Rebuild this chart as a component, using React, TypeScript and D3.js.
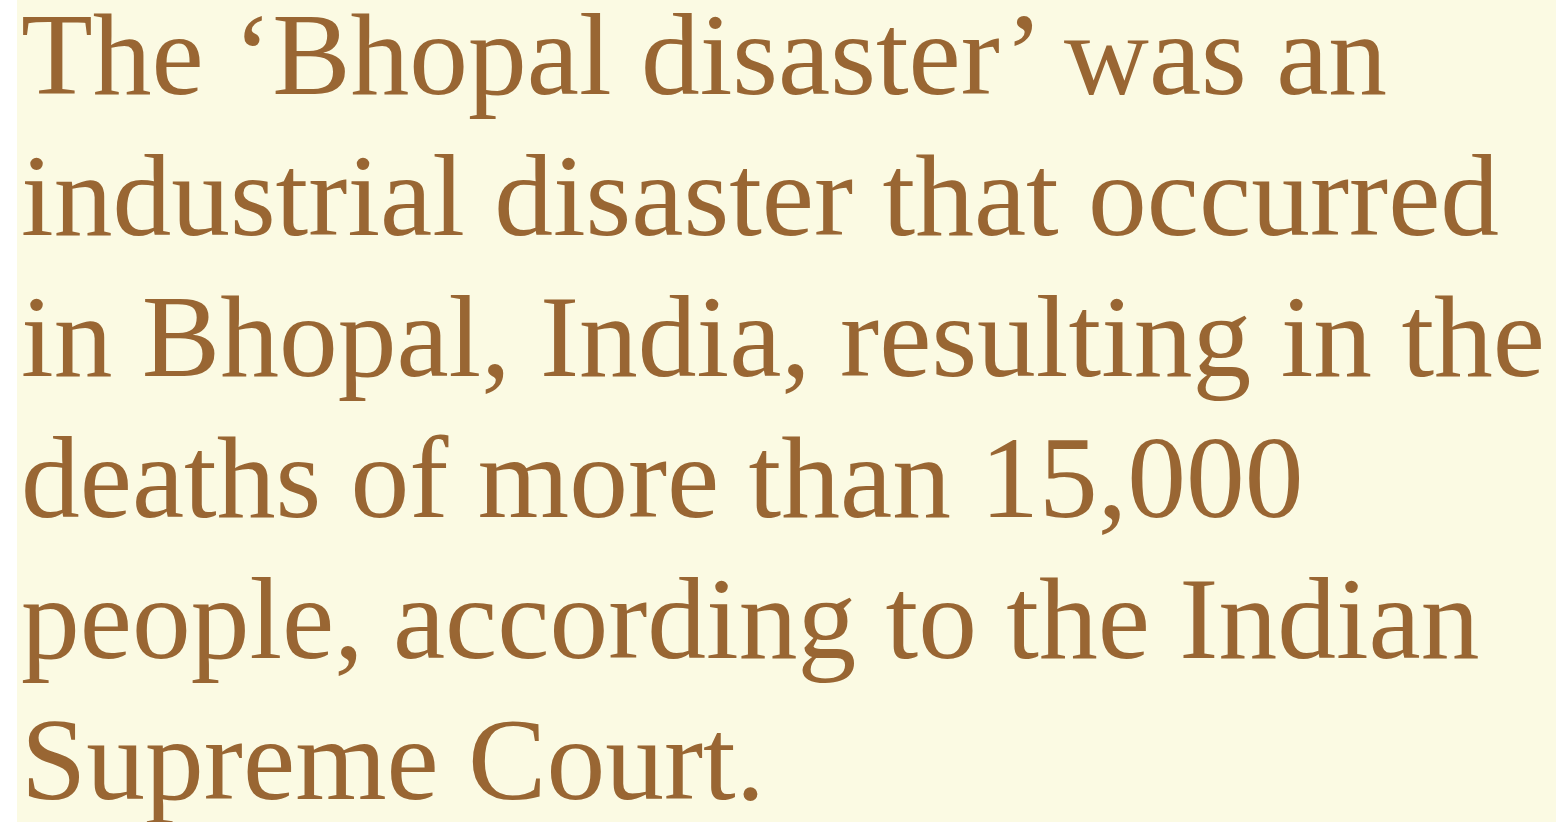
import React from 'react';
import * as d3 from 'd3';

const lines = [
    'The \u2018Bhopal disaster\u2019 was an',
    'industrial disaster that occurred',
    'in Bhopal, India, resulting in the',
    'deaths of more than 15,000',
    'people, according to the Indian',
    'Supreme Court.',
];

const width = 1556;
const height = 822;
const bgLeft = 17;
const textLeft = 21;
const fontSize = 117.5;

const App: React.FC = () => {
    // line baselines
    const y = d3.scaleLinear().domain([0, lines.length - 1]).range([94, 799]);

    return (
        <svg
            width={width}
            height={height}
            style={{ position: 'absolute', left: 0, top: 0 }}
        >
            <rect x={bgLeft} y={0} width={width - bgLeft} height={height} fill="#fbfae3" />
            {lines.map((line, i) => (
                <text
                    key={i}
                    x={textLeft}
                    y={y(i)}
                    fill="#996633"
                    fontFamily="'Liberation Serif', 'Times New Roman', serif"
                    fontSize={fontSize}
                >
                    {line}
                </text>
            ))}
        </svg>
    );
};

export default App;
